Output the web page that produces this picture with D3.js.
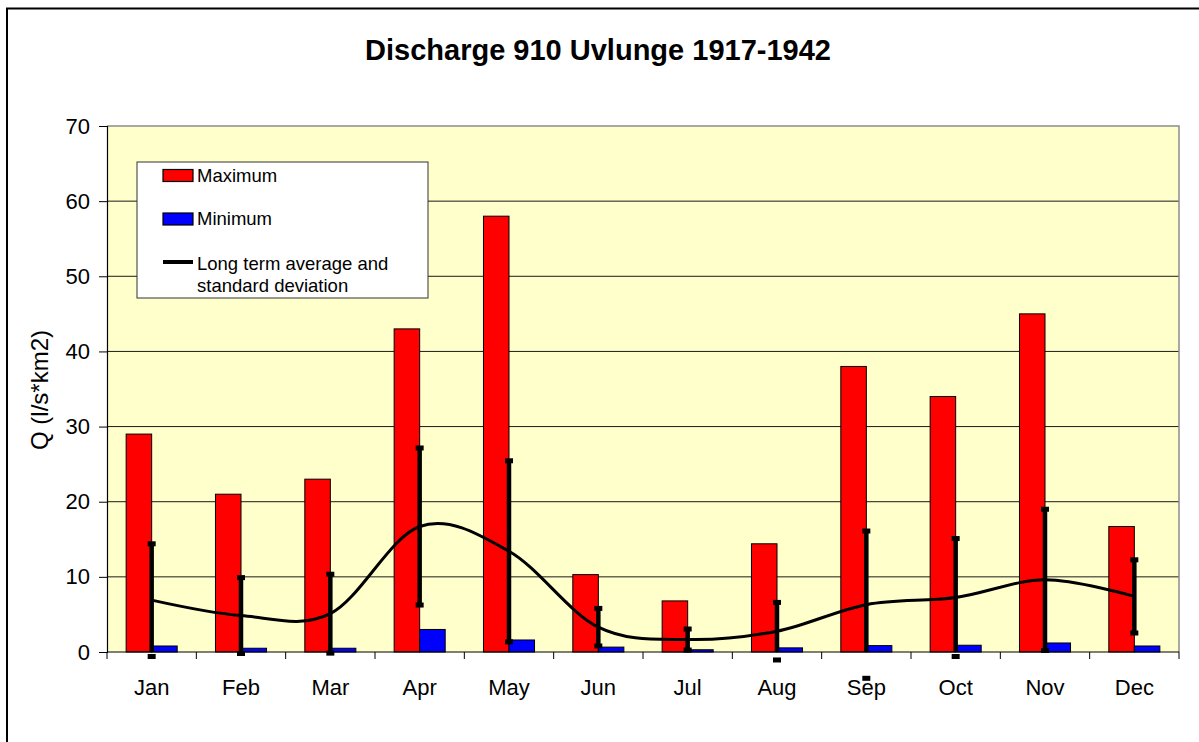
<!DOCTYPE html>
<html>
<head>
<meta charset="utf-8">
<script src="https://cdn.jsdelivr.net/npm/d3@7/dist/d3.min.js"></script>
<style>
  html, body { margin: 0; padding: 0; background: #fff; }
  svg { display: block; font-family: "Liberation Sans", Arial, Helvetica, sans-serif; }
</style>
</head>
<body>
<svg id="chart" width="1199" height="742"></svg>
<script>
// Monthly discharge statistics, Q in l/s*km2
const months = ["Jan", "Feb", "Mar", "Apr", "May", "Jun", "Jul", "Aug", "Sep", "Oct", "Nov", "Dec"];
const maxQ  = [29, 21, 23, 43, 58, 10.3, 6.8, 14.4, 38, 34, 45, 16.7];
const minQ  = [0.8, 0.5, 0.5, 3.0, 1.6, 0.65, 0.3, 0.55, 0.85, 0.9, 1.2, 0.8];
const meanQ = [6.9, 4.85, 5.1, 16.7, 13.4, 3.3, 1.66, 2.77, 6.3, 7.25, 9.6, 7.4];
const sdQ   = [7.5, 5.05, 5.25, 10.45, 12.05, 2.5, 1.4, 3.83, 9.8, 7.85, 9.4, 4.87];
const yTicks = [0, 10, 20, 30, 40, 50, 60, 70];

const svg = d3.select("#chart");
const plot = { left: 107, right: 1179, top: 126, bottom: 652 };

// chart frame
svg.append("rect")
  .attr("x", 7).attr("y", 8.5).attr("width", 1300).attr("height", 800)
  .attr("fill", "#fff").attr("stroke", "#000").attr("stroke-width", 2);

// title
svg.append("text")
  .attr("x", 598).attr("y", 60)
  .attr("text-anchor", "middle")
  .attr("font-weight", "bold").attr("font-size", 29)
  .text("Discharge 910 Uvlunge 1917-1942");

const x = d3.scaleBand().domain(months).range([plot.left, plot.right]).padding(0);
const y = d3.scaleLinear().domain([0, 70]).range([plot.bottom, plot.top]);
const bw = x.bandwidth();
const barW = bw / 3.5;
const cx = m => x(m) + bw / 2;

// plot area background
svg.append("rect")
  .attr("x", plot.left).attr("y", plot.top)
  .attr("width", plot.right - plot.left).attr("height", plot.bottom - plot.top)
  .attr("fill", "#FFFFCC");

// horizontal gridlines
svg.append("g").selectAll("line")
  .data(yTicks.filter(t => t > 0 && t < 70))
  .join("line")
  .attr("x1", plot.left).attr("x2", plot.right)
  .attr("y1", d => y(d)).attr("y2", d => y(d))
  .attr("stroke", "#1a1a1a").attr("stroke-width", 1);

// plot border (top and right)
svg.append("path")
  .attr("d", `M${plot.left},${plot.top}H${plot.right}V${plot.bottom}`)
  .attr("fill", "none").attr("stroke", "#8c8c8c").attr("stroke-width", 1.5);

// clip for error bar stems
svg.append("clipPath").attr("id", "plotClip")
  .append("rect")
  .attr("x", plot.left).attr("y", plot.top)
  .attr("width", plot.right - plot.left).attr("height", plot.bottom - plot.top);

// maximum bars
svg.append("g").selectAll("rect")
  .data(months)
  .join("rect")
  .attr("x", (m) => cx(m) - barW)
  .attr("y", (m, i) => y(maxQ[i]))
  .attr("width", barW)
  .attr("height", (m, i) => y(0) - y(maxQ[i]))
  .attr("fill", "#FF0000").attr("stroke", "#000").attr("stroke-width", 1);

// minimum bars
svg.append("g").selectAll("rect")
  .data(months)
  .join("rect")
  .attr("x", (m) => cx(m))
  .attr("y", (m, i) => y(minQ[i]))
  .attr("width", barW)
  .attr("height", (m, i) => y(0) - y(minQ[i]))
  .attr("fill", "#0000FF").attr("stroke", "#000").attr("stroke-width", 1);

// axes
const yAxis = svg.append("g")
  .attr("transform", `translate(${plot.left},0)`)
  .call(d3.axisLeft(y).tickValues(yTicks).tickSize(8).tickPadding(9));
yAxis.select(".domain").attr("stroke", "#000").attr("stroke-width", 1.2);
yAxis.selectAll(".tick line").attr("stroke", "#000");
yAxis.selectAll(".tick text").attr("font-size", 22).attr("fill", "#000")
  .attr("font-family", "Liberation Sans, Arial, sans-serif");

const xAxisG = svg.append("g");
xAxisG.append("line")
  .attr("x1", plot.left).attr("x2", plot.right)
  .attr("y1", plot.bottom).attr("y2", plot.bottom)
  .attr("stroke", "#000").attr("stroke-width", 1.2);
const boundaries = months.map(m => x(m)).concat([plot.right]);
xAxisG.selectAll("line.tk")
  .data(boundaries)
  .join("line").attr("class", "tk")
  .attr("x1", d => d).attr("x2", d => d)
  .attr("y1", plot.bottom).attr("y2", plot.bottom + 7)
  .attr("stroke", "#000").attr("stroke-width", 1);
xAxisG.selectAll("text")
  .data(months)
  .join("text")
  .attr("x", m => cx(m)).attr("y", 695)
  .attr("text-anchor", "middle").attr("font-size", 22)
  .text(m => m);

// y axis title
svg.append("text")
  .attr("transform", "translate(48,390) rotate(-90)")
  .attr("text-anchor", "middle").attr("font-size", 24)
  .text("Q (l/s*km2)");

// standard deviation stems
const eb = svg.append("g");
eb.append("g").attr("clip-path", "url(#plotClip)")
  .selectAll("line")
  .data(months)
  .join("line")
  .attr("x1", m => cx(m)).attr("x2", m => cx(m))
  .attr("y1", (m, i) => y(meanQ[i] - sdQ[i]))
  .attr("y2", (m, i) => y(meanQ[i] + sdQ[i]))
  .attr("stroke", "#000").attr("stroke-width", 4.5);

// caps at both ends
const caps = [];
months.forEach((m, i) => {
  caps.push({ m, v: meanQ[i] + sdQ[i] });
  caps.push({ m, v: meanQ[i] - sdQ[i] });
});
eb.append("g").selectAll("rect")
  .data(caps)
  .join("rect")
  .attr("x", d => cx(d.m) - 4)
  .attr("y", d => y(d.v) - 2.5)
  .attr("width", 8).attr("height", 5)
  .attr("fill", "#000");

// long term average, smoothed
const line = d3.line()
  .x((m) => cx(m))
  .y((m, i) => y(meanQ[i]))
  .curve(d3.curveCardinal.tension(0));
svg.append("path")
  .datum(months)
  .attr("d", line)
  .attr("fill", "none").attr("stroke", "#000").attr("stroke-width", 3);

// legend
const lg = svg.append("g").attr("font-size", 18.5);
lg.append("rect")
  .attr("x", 137).attr("y", 162).attr("width", 291).attr("height", 136)
  .attr("fill", "#fff").attr("stroke", "#333").attr("stroke-width", 1);
lg.append("rect").attr("x", 163).attr("y", 169.5).attr("width", 30).attr("height", 12)
  .attr("fill", "#FF0000").attr("stroke", "#000").attr("stroke-width", 1.2);
lg.append("text").attr("x", 197).attr("y", 181.5).text("Maximum");
lg.append("rect").attr("x", 163).attr("y", 213).attr("width", 30).attr("height", 12)
  .attr("fill", "#0000FF").attr("stroke", "#000").attr("stroke-width", 1.2);
lg.append("text").attr("x", 197).attr("y", 225).text("Minimum");
lg.append("line").attr("x1", 163).attr("x2", 193).attr("y1", 262).attr("y2", 262)
  .attr("stroke", "#000").attr("stroke-width", 4);
lg.append("text").attr("x", 197).attr("y", 270).text("Long term average and");
lg.append("text").attr("x", 197).attr("y", 292).text("standard deviation");
</script>
</body>
</html>
